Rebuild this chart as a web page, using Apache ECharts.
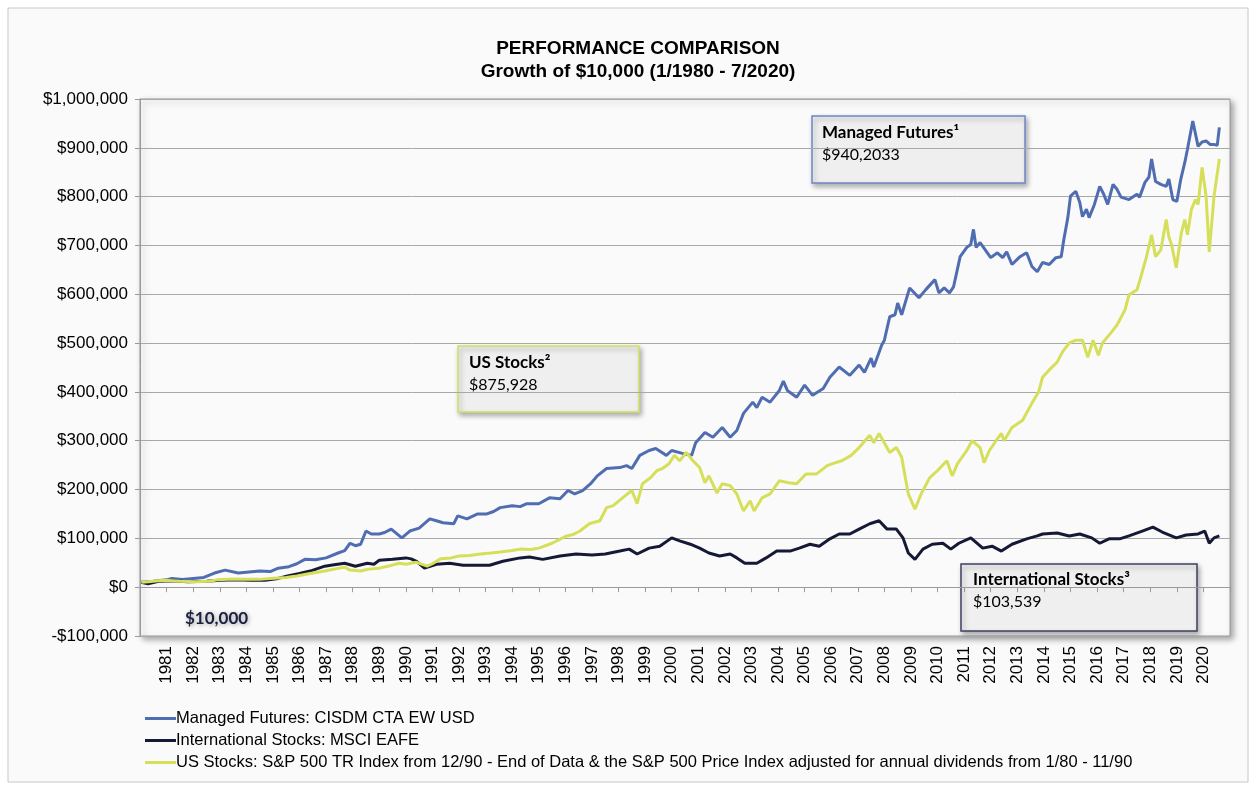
<!DOCTYPE html>
<html>
<head>
<meta charset="utf-8">
<title>Performance Comparison</title>
<script src="https://cdn.jsdelivr.net/npm/echarts@6/dist/echarts.min.js"></script>
<style>
  html, body { margin: 0; padding: 0; background: #fff; }
  #chart { width: 1256px; height: 785px; }
</style>
</head>
<body>
<div id="chart"></div>
<script>
// values (decimal year, dollars)
var mfYears = [1980.05, 1980.5, 1981.0, 1981.2, 1981.6, 1982.0, 1982.4, 1982.8, 1983.2, 1983.7, 1984.1, 1984.5, 1984.9, 1985.2, 1985.6, 1985.9, 1986.2, 1986.6, 1987.0, 1987.45, 1987.7, 1987.9, 1988.1, 1988.3, 1988.5, 1988.7, 1989.0, 1989.2, 1989.45, 1989.85, 1990.15, 1990.5, 1990.9, 1991.15, 1991.4, 1991.8, 1991.95, 1992.3, 1992.7, 1993.05, 1993.3, 1993.55, 1994.0, 1994.3, 1994.55, 1995.0, 1995.4, 1995.8, 1996.1, 1996.35, 1996.65, 1996.95, 1997.2, 1997.55, 1998.05, 1998.3, 1998.5, 1998.8, 1999.15, 1999.4, 1999.8, 2000.0, 2000.4, 2000.75, 2000.9, 2001.25, 2001.55, 2001.9, 2002.2, 2002.45, 2002.7, 2003.05, 2003.2, 2003.4, 2003.7, 2004.05, 2004.2, 2004.35, 2004.7, 2005.0, 2005.3, 2005.7, 2005.95, 2006.3, 2006.7, 2007.05, 2007.25, 2007.5, 2007.6, 2007.9, 2008.0, 2008.2, 2008.4, 2008.5, 2008.65, 2008.95, 2009.3, 2009.55, 2009.9, 2010.05, 2010.25, 2010.45, 2010.6, 2010.85, 2011.1, 2011.25, 2011.35, 2011.45, 2011.6, 2012.0, 2012.25, 2012.45, 2012.6, 2012.8, 2013.1, 2013.35, 2013.55, 2013.75, 2013.95, 2014.2, 2014.45, 2014.65, 2014.75, 2014.9, 2015.0, 2015.2, 2015.35, 2015.45, 2015.6, 2015.7, 2015.9, 2016.1, 2016.25, 2016.4, 2016.6, 2016.75, 2016.9, 2017.2, 2017.5, 2017.6, 2017.8, 2017.95, 2018.05, 2018.2, 2018.4, 2018.6, 2018.7, 2018.85, 2019.0, 2019.15, 2019.3, 2019.4, 2019.6, 2019.8, 2019.95, 2020.1, 2020.25, 2020.4, 2020.52, 2020.6];
var mfValues = [10000, 12000, 15000, 18000, 16000, 18000, 20000, 29000, 35000, 29000, 31000, 33000, 32000, 39000, 42000, 48000, 57000, 56000, 60000, 70000, 75000, 90000, 85000, 88000, 115000, 109000, 109000, 112000, 119000, 101000, 115000, 121000, 140000, 136000, 132000, 130000, 146000, 140000, 150000, 150000, 155000, 163000, 167000, 165000, 171000, 171000, 183000, 181000, 198000, 191000, 198000, 212000, 228000, 243000, 245000, 249000, 243000, 270000, 280000, 284000, 270000, 280000, 274000, 270000, 296000, 317000, 307000, 327000, 307000, 321000, 356000, 379000, 368000, 389000, 379000, 403000, 422000, 403000, 389000, 414000, 393000, 407000, 430000, 451000, 434000, 455000, 440000, 469000, 451000, 496000, 506000, 554000, 558000, 582000, 558000, 613000, 593000, 609000, 630000, 603000, 613000, 603000, 615000, 677000, 696000, 702000, 733000, 696000, 706000, 675000, 685000, 675000, 687000, 661000, 677000, 685000, 657000, 646000, 665000, 661000, 675000, 677000, 712000, 757000, 801000, 811000, 788000, 759000, 774000, 757000, 784000, 821000, 805000, 784000, 825000, 815000, 799000, 794000, 805000, 799000, 829000, 840000, 877000, 831000, 825000, 821000, 836000, 794000, 790000, 836000, 870000, 897000, 955000, 903000, 912000, 914000, 907000, 907000, 905000, 942000];

var intlYears = [1980.05, 1980.3, 1980.7, 1981.2, 1981.8, 1982.5, 1983.0, 1983.6, 1984.2, 1984.7, 1985.2, 1985.55, 1986.0, 1986.4, 1986.95, 1987.3, 1987.7, 1988.1, 1988.55, 1988.8, 1989.0, 1989.5, 1990.0, 1990.2, 1990.4, 1990.7, 1991.15, 1991.65, 1992.15, 1992.65, 1993.15, 1993.65, 1994.3, 1994.65, 1995.15, 1995.8, 1996.4, 1997.0, 1997.5, 1998.05, 1998.4, 1998.7, 1999.15, 1999.55, 2000.0, 2000.3, 2000.7, 2001.05, 2001.4, 2001.8, 2002.2, 2002.45, 2002.75, 2003.2, 2003.55, 2003.95, 2004.45, 2004.8, 2005.2, 2005.55, 2005.95, 2006.3, 2006.7, 2007.05, 2007.45, 2007.8, 2008.1, 2008.45, 2008.7, 2008.9, 2009.15, 2009.45, 2009.8, 2010.2, 2010.5, 2010.8, 2011.25, 2011.7, 2012.05, 2012.4, 2012.8, 2013.35, 2013.75, 2013.95, 2014.5, 2014.95, 2015.35, 2015.8, 2016.1, 2016.45, 2016.85, 2017.2, 2017.7, 2018.1, 2018.45, 2018.98, 2019.35, 2019.8, 2020.05, 2020.22, 2020.4, 2020.6];
var intlValues = [10000, 7000, 12000, 13000, 11000, 12000, 14000, 15000, 14000, 14000, 18000, 23000, 28000, 33000, 43000, 46000, 49000, 43000, 49000, 47000, 55000, 57000, 60000, 58000, 53000, 39000, 47000, 49000, 45000, 45000, 45000, 53000, 60000, 62000, 57000, 64000, 68000, 66000, 68000, 74000, 78000, 68000, 80000, 84000, 101000, 95000, 88000, 80000, 70000, 64000, 68000, 60000, 49000, 49000, 60000, 74000, 74000, 80000, 88000, 84000, 99000, 109000, 109000, 119000, 130000, 136000, 119000, 119000, 101000, 70000, 57000, 78000, 88000, 90000, 78000, 90000, 101000, 80000, 84000, 74000, 88000, 99000, 105000, 109000, 111000, 105000, 109000, 101000, 90000, 99000, 99000, 105000, 115000, 123000, 113000, 101000, 107000, 109000, 115000, 90000, 101000, 105000];

var usYears = [1980.05, 1980.3, 1980.9, 1981.5, 1982.1, 1982.6, 1982.9, 1983.5, 1984.0, 1984.5, 1984.9, 1985.5, 1985.9, 1986.4, 1986.95, 1987.4, 1987.7, 1987.9, 1988.3, 1988.6, 1989.0, 1989.4, 1989.75, 1990.0, 1990.4, 1990.8, 1991.0, 1991.3, 1991.7, 1992.0, 1992.4, 1992.8, 1993.2, 1993.55, 1994.0, 1994.3, 1994.7, 1995.0, 1995.5, 1996.05, 1996.3, 1996.55, 1996.9, 1997.3, 1997.55, 1997.8, 1998.15, 1998.5, 1998.7, 1998.9, 1999.2, 1999.45, 1999.65, 1999.9, 2000.1, 2000.3, 2000.55, 2000.8, 2001.05, 2001.25, 2001.4, 2001.7, 2001.9, 2002.2, 2002.45, 2002.7, 2002.95, 2003.1, 2003.4, 2003.7, 2004.05, 2004.4, 2004.7, 2005.05, 2005.45, 2005.85, 2006.05, 2006.4, 2006.75, 2007.05, 2007.45, 2007.6, 2007.8, 2008.2, 2008.45, 2008.65, 2008.9, 2009.15, 2009.4, 2009.7, 2010.0, 2010.35, 2010.55, 2010.75, 2011.1, 2011.3, 2011.6, 2011.75, 2011.95, 2012.2, 2012.4, 2012.5, 2012.8, 2013.2, 2013.55, 2013.8, 2013.95, 2014.2, 2014.5, 2014.7, 2014.95, 2015.2, 2015.45, 2015.65, 2015.85, 2016.05, 2016.2, 2016.55, 2016.75, 2017.05, 2017.2, 2017.5, 2017.65, 2017.85, 2018.05, 2018.2, 2018.4, 2018.6, 2018.7, 2018.8, 2018.98, 2019.17, 2019.3, 2019.4, 2019.55, 2019.7, 2019.8, 2019.95, 2020.1, 2020.22, 2020.4, 2020.6];
var usValues = [10000, 11000, 14000, 12000, 11000, 12000, 15000, 17000, 16000, 16000, 18000, 20000, 23000, 28000, 33000, 38000, 41000, 35000, 33000, 37000, 39000, 44000, 49000, 47000, 51000, 43000, 48000, 58000, 60000, 64000, 65000, 68000, 70000, 72000, 75000, 78000, 77000, 80000, 90000, 105000, 108000, 115000, 130000, 136000, 163000, 167000, 183000, 198000, 171000, 212000, 224000, 239000, 243000, 253000, 270000, 259000, 276000, 259000, 245000, 214000, 228000, 193000, 212000, 208000, 191000, 156000, 177000, 156000, 183000, 191000, 218000, 214000, 212000, 232000, 232000, 249000, 253000, 259000, 270000, 286000, 311000, 296000, 315000, 276000, 286000, 266000, 191000, 160000, 193000, 224000, 239000, 259000, 228000, 253000, 280000, 300000, 286000, 255000, 280000, 300000, 315000, 300000, 327000, 342000, 377000, 400000, 430000, 445000, 461000, 482000, 500000, 506000, 506000, 471000, 506000, 475000, 500000, 523000, 537000, 568000, 599000, 609000, 636000, 675000, 722000, 677000, 691000, 753000, 718000, 702000, 654000, 726000, 753000, 722000, 774000, 794000, 784000, 860000, 801000, 687000, 801000, 877000];

var seriesNames = [
  'Managed Futures: CISDM CTA EW USD',
  'International Stocks: MSCI EAFE',
  'US Stocks: S&P 500 TR Index from 12/90 - End of Data & the S&P 500 Price Index adjusted for annual dividends from 1/80 - 11/90'
];
var seriesColors = ['#4f6db0', '#151936', '#d5df5a'];
var firstYear = 1980, lastYear = 2021;
var yMin = -100000, yMax = 1000000, yStep = 100000;

function pairs(xs, ys) {
  return xs.map(function (x, i) { return [x, ys[i]]; });
}

function money(v) {
  var s = Math.abs(v).toString().replace(/\B(?=(\d{3})+(?!\d))/g, ',');
  return (v < 0 ? '-$' : '$') + s;
}

var chart = echarts.init(document.getElementById('chart'));

var lineSeries = function (name, data, color) {
  return {
    name: name,
    type: 'line',
    data: data,
    showSymbol: false,
    symbol: 'none',
    lineStyle: { width: 3, color: color },
    itemStyle: { color: color },
    animation: false
  };
};

var option = {
  backgroundColor: '#ffffff',
  animation: false,
  title: {
    text: 'PERFORMANCE COMPARISON\nGrowth of $10,000 (1/1980 - 7/2020)',
    left: 633,
    textAlign: 'center',
    top: 32,
    textStyle: {
      fontFamily: 'Liberation Sans, Arial, sans-serif',
      fontWeight: 'bold',
      fontSize: 19,
      lineHeight: 23,
      color: '#000'
    }
  },
  grid: {
    left: 140,
    right: 26,
    top: 99,
    bottom: 149,
    show: true,
    backgroundColor: '#fafafa',
    borderColor: '#9a9a9a',
    borderWidth: 1,
    shadowColor: 'rgba(0,0,0,0.35)',
    shadowBlur: 6,
    shadowOffsetX: 3,
    shadowOffsetY: 3
  },
  legend: {
    orient: 'vertical',
    left: 140,
    top: 705,
    icon: 'rect',
    itemWidth: 31,
    itemHeight: 3,
    itemGap: 5,
    textStyle: {
      fontFamily: 'Liberation Sans Narrow, Arial Narrow, Liberation Sans, sans-serif',
      fontSize: 16.5,
      color: '#000',
      padding: [0, 0, 0, -5]
    },
    data: seriesNames
  },
  xAxis: [{
    type: 'value',
    min: firstYear,
    max: lastYear,
    interval: 1,
    position: 'bottom',
    axisLine: { show: false, onZero: false },
    axisTick: { show: false },
    splitLine: { show: false },
    axisLabel: {
      rotate: 90,
      margin: 10,
      fontFamily: 'Liberation Sans, Arial, sans-serif',
      fontSize: 17,
      color: '#000',
      showMinLabel: false,
      showMaxLabel: false,
      formatter: function (v) { return String(v); }
    }
  }, {
    type: 'value',
    min: firstYear,
    max: lastYear,
    interval: 1,
    position: 'bottom',
    axisLine: { show: true, onZero: true, lineStyle: { color: '#9a9a9a', width: 1 } },
    axisTick: { show: true, length: 5, lineStyle: { color: '#9a9a9a' } },
    axisLabel: { show: false },
    splitLine: { show: false }
  }],
  yAxis: {
    type: 'value',
    min: yMin,
    max: yMax,
    interval: yStep,
    axisLine: { show: true, lineStyle: { color: '#9a9a9a' } },
    axisTick: { show: true, length: 5, lineStyle: { color: '#9a9a9a' } },
    splitLine: { show: true, lineStyle: { color: '#a8a8a8', width: 1 } },
    axisLabel: {
      margin: 12,
      fontFamily: 'Liberation Sans, Arial, sans-serif',
      fontSize: 17,
      color: '#000',
      formatter: money
    }
  },
  series: [
    lineSeries(seriesNames[0], pairs(mfYears, mfValues), seriesColors[0]),
    lineSeries(seriesNames[1], pairs(intlYears, intlValues), seriesColors[1]),
    lineSeries(seriesNames[2], pairs(usYears, usValues), seriesColors[2])
  ],
  graphic: [
    {
      type: 'rect', z: -10, silent: true,
      shape: { x: 8, y: 8, width: 1240, height: 774 },
      style: { fill: '#fafafa', stroke: '#c8c8c8', lineWidth: 1 }
    },
    // annotation boxes
    {
      type: 'group', z: 100,
      children: [
        {
          type: 'rect', shape: { x: 812, y: 116, width: 213, height: 67 },
          style: { fill: '#efefef', stroke: '#6f87c6', lineWidth: 1.5, shadowColor: 'rgba(0,0,0,0.3)', shadowBlur: 5, shadowOffsetX: 2, shadowOffsetY: 3 }
        },
        { type: 'text', x: 822, y: 133, style: { text: 'Managed Futures¹', fill: '#000', font: 'bold 17px Lato, sans-serif', verticalAlign: 'middle' } },
        { type: 'text', x: 822, y: 155, style: { text: '$940,2033', fill: '#000', font: '16px Lato, sans-serif', verticalAlign: 'middle' } },

        {
          type: 'rect', shape: { x: 458, y: 346, width: 181, height: 66 },
          style: { fill: '#efefef', stroke: '#d3df62', lineWidth: 1.5, shadowColor: 'rgba(0,0,0,0.3)', shadowBlur: 5, shadowOffsetX: 2, shadowOffsetY: 3 }
        },
        { type: 'text', x: 469, y: 363, style: { text: 'US Stocks²', fill: '#000', font: 'bold 17px Lato, sans-serif', verticalAlign: 'middle' } },
        { type: 'text', x: 469, y: 385, style: { text: '$875,928', fill: '#000', font: '16px Lato, sans-serif', verticalAlign: 'middle' } },

        {
          type: 'rect', shape: { x: 961, y: 564, width: 236, height: 67 },
          style: { fill: '#efefef', stroke: '#3d4060', lineWidth: 1.5, shadowColor: 'rgba(0,0,0,0.3)', shadowBlur: 5, shadowOffsetX: 2, shadowOffsetY: 3 }
        },
        { type: 'text', x: 973, y: 580, style: { text: 'International Stocks³', fill: '#000', font: 'bold 17px Lato, sans-serif', verticalAlign: 'middle' } },
        { type: 'text', x: 973, y: 602, style: { text: '$103,539', fill: '#000', font: '16px Lato, sans-serif', verticalAlign: 'middle' } },

        {
          type: 'text', x: 185, y: 619,
          style: {
            text: '$10,000', fill: '#1b2040', font: 'bold 17px Lato, sans-serif', verticalAlign: 'middle',
            textShadowColor: 'rgba(0,0,0,0.35)', textShadowBlur: 4, textShadowOffsetX: 1, textShadowOffsetY: 1
          }
        }
      ]
    }
  ]
};

chart.setOption(option);

window.onresize = function () {
  chart.resize();
};
</script>
</body>
</html>
